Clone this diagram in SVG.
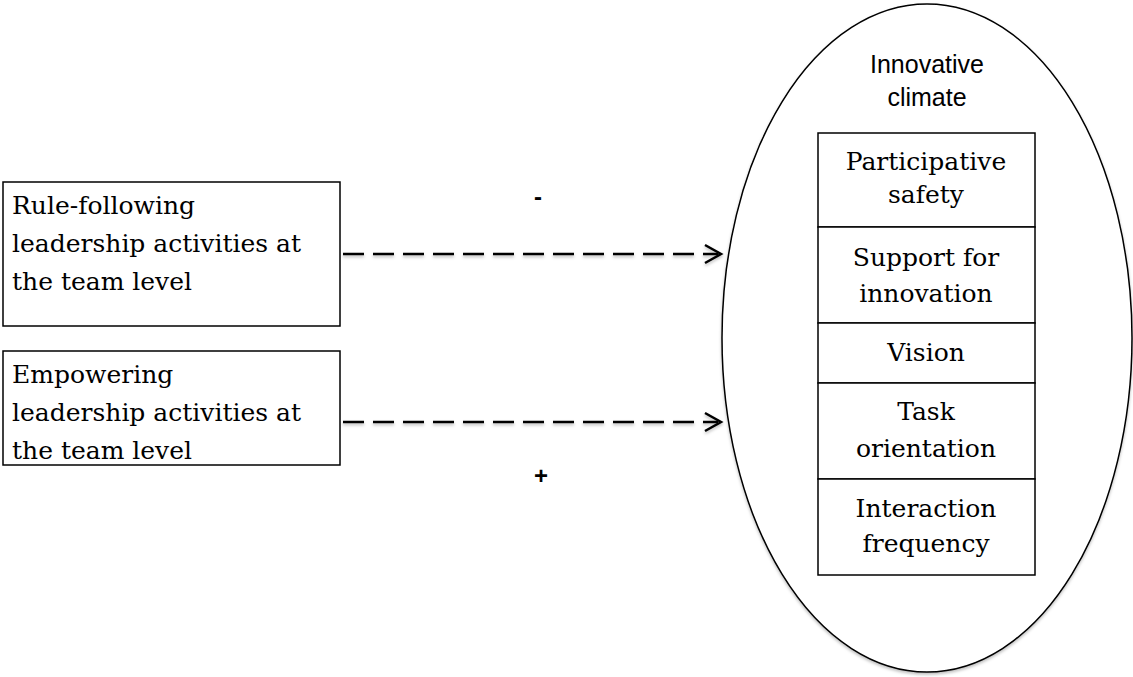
<svg xmlns="http://www.w3.org/2000/svg" width="1133" height="677" viewBox="0 0 1133 677">
<defs>
<style>
.box{fill:#fff;stroke:#000;stroke-width:1.5}
.t{font-family:"DejaVu Serif","Liberation Serif",serif;font-size:25px;fill:#000}
.c{text-anchor:middle}
.s{font-family:"Liberation Sans",Arial,sans-serif;font-size:25px;fill:#000;text-anchor:middle}
.sign{font-family:"Liberation Sans",Arial,sans-serif;font-size:24px;font-weight:bold;fill:#000;text-anchor:middle}
.dash{fill:none;stroke:#000;stroke-width:2.5;stroke-dasharray:21 9}
.head{fill:none;stroke:#000;stroke-width:2.5}
</style>
<filter id="sh" x="-5%" y="-5%" width="110%" height="110%">
<feDropShadow dx="0" dy="2" stdDeviation="1.5" flood-color="#000" flood-opacity="0.25"/>
</filter>
</defs>
<rect width="1133" height="677" fill="#fff"/>
<g id="climate">
<ellipse cx="927" cy="338" rx="205" ry="334" fill="#fff" stroke="#000" stroke-width="1.5" filter="url(#sh)"/>
<text class="s" x="927" y="73">Innovative</text>
<text class="s" x="927" y="106">climate</text>
</g>
<g id="participative">
<rect class="box" x="818" y="133" width="217" height="94"/>
<text class="t c" x="926" y="170">Participative</text>
<text class="t c" x="926" y="203">safety</text>
</g>
<g id="support">
<rect class="box" x="818" y="227" width="217" height="96"/>
<text class="t c" x="926" y="266">Support for</text>
<text class="t c" x="926" y="302">innovation</text>
</g>
<g id="vision">
<rect class="box" x="818" y="323" width="217" height="60"/>
<text class="t c" x="926" y="361">Vision</text>
</g>
<g id="task">
<rect class="box" x="818" y="383" width="217" height="96"/>
<text class="t c" x="926" y="420">Task</text>
<text class="t c" x="926" y="457">orientation</text>
</g>
<g id="interaction">
<rect class="box" x="818" y="479" width="217" height="96"/>
<text class="t c" x="926" y="517">Interaction</text>
<text class="t c" x="926" y="552">frequency</text>
</g>
<g id="rulefollowing">
<rect class="box" x="3" y="182" width="337" height="144"/>
<text class="t" x="12" y="214">Rule-following</text>
<text class="t" x="12" y="252">leadership activities at</text>
<text class="t" x="12" y="290">the team level</text>
</g>
<g id="empowering">
<rect class="box" x="3" y="351" width="337" height="114"/>
<text class="t" x="12" y="383">Empowering</text>
<text class="t" x="12" y="421">leadership activities at</text>
<text class="t" x="12" y="459">the team level</text>
</g>
<g id="connectors" filter="url(#sh)">
<line class="dash" x1="343" y1="254" x2="718" y2="254"/>
<polyline class="head" points="705,245 721,254 705,263"/>
<line class="dash" x1="343" y1="422" x2="718" y2="422"/>
<polyline class="head" points="705,413 721,422 705,431"/>
</g>
<g id="labels">
<text class="sign" x="538" y="205">-</text>
<text class="sign" x="541" y="484">+</text>
</g>
</svg>
